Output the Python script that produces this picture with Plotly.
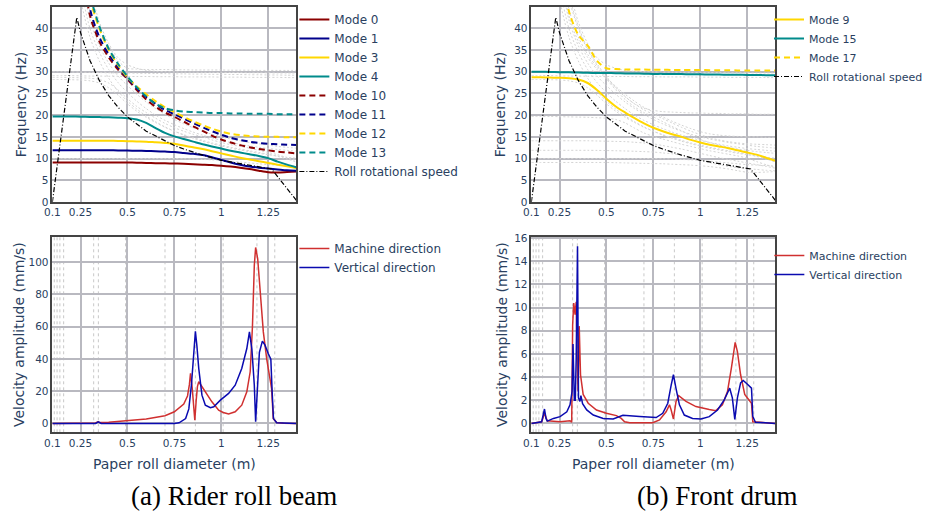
import plotly.graph_objects as go

# ---------------- data ----------------
diameter = [0.1, 0.15, 0.2, 0.25, 0.3, 0.35, 0.4, 0.45, 0.5, 0.55, 0.6, 0.65, 0.7, 0.75,
            0.8, 0.85, 0.9, 0.95, 1.0, 1.05, 1.1, 1.15, 1.2, 1.25, 1.3, 1.35, 1.4]

mode_0 = [9.1, 9.1, 9.1, 9.1, 9.1, 9.1, 9.1, 9.1, 9.1, 9.05, 9.0, 8.95, 8.9, 8.85,
          8.8, 8.7, 8.6, 8.5, 8.35, 8.15, 7.9, 7.6, 7.2, 6.85, 6.8, 6.9, 7.0]
mode_1 = [11.9, 11.9, 11.9, 11.9, 11.9, 11.9, 11.9, 11.88, 11.85, 11.8, 11.75, 11.68, 11.6, 11.5,
          11.3, 11.1, 10.8, 10.3, 9.7, 9.1, 8.6, 8.2, 7.9, 7.7, 7.5, 7.3, 7.2]
mode_2 = [10.0, 10.0, 10.0, 10.0, 10.0, 10.0, 10.0, 10.0, 10.0, 10.0, 10.0, 10.0, 10.0, 10.0,
          9.95, 9.9, 9.8, 9.7, 9.55, 9.4, 9.2, 9.0, 8.8, 8.6, 8.5, 8.4, 8.3]
mode_3 = [14.1, 14.1, 14.1, 14.1, 14.1, 14.1, 14.1, 14.05, 14.0, 13.95, 13.9, 13.75, 13.6, 13.4,
          13.0, 12.6, 12.2, 11.7, 11.2, 10.7, 10.2, 9.8, 9.4, 9.0, 8.6, 8.2, 7.8]
mode_4 = [19.7, 19.7, 19.7, 19.65, 19.6, 19.55, 19.5, 19.4, 19.3, 19.0, 18.2, 17.0, 15.9, 15.1,
          14.5, 13.9, 13.3, 12.8, 12.3, 11.8, 11.4, 11.0, 10.6, 10.1, 9.3, 8.6, 8.0]
mode_5 = [120, 95, 68, 47, 38, 32.5, 28.5, 25.5, 23.2, 21.4, 19.8, 18.5, 17.3, 16.3,
          15.4, 14.7, 14.0, 13.4, 12.9, 12.4, 12.0, 11.6, 11.2, 10.9, 10.6, 10.3, 10.1]
mode_6 = [125, 98, 72, 50, 40, 34.5, 30.5, 27.5, 25.2, 23.2, 21.5, 20.0, 18.8, 17.8,
          16.9, 16.1, 15.4, 14.8, 14.2, 13.7, 13.3, 12.9, 12.6, 12.3, 12.1, 11.9, 11.7]
mode_7 = [130, 102, 76, 54, 42, 36, 32, 29, 26.8, 24.8, 23.0, 21.5, 20.2, 19.0,
          18.0, 17.1, 16.3, 15.6, 15.0, 14.5, 14.1, 13.7, 13.4, 13.1, 12.8, 12.6, 12.4]
mode_8 = [29.1, 29.1, 29.1, 29.05, 29.0, 29.0, 28.95, 28.95, 28.9, 28.9, 28.9, 28.85, 28.85, 28.85,
          28.8, 28.8, 28.8, 28.8, 28.75, 28.75, 28.75, 28.7, 28.7, 28.7, 28.7, 28.65, 28.65]
mode_9 = [28.7, 28.7, 28.65, 28.6, 28.5, 28.2, 27.4, 25.8, 23.8, 22.0, 20.6, 19.3, 18.1, 17.1,
          16.3, 15.6, 15.0, 14.3, 13.7, 13.2, 12.8, 12.4, 11.9, 11.4, 10.9, 10.2, 9.5]
mode_10 = [140, 110, 82, 58, 43, 37, 33.3, 30.5, 28.3, 25.8, 23.6, 21.9, 20.6, 19.6,
           18.5, 17.4, 16.4, 15.3, 14.4, 13.7, 13.1, 12.6, 12.2, 11.9, 11.6, 11.4, 11.2]
mode_11 = [145, 115, 85, 60, 44.5, 38, 34, 31, 28.5, 26.2, 24.2, 22.6, 21.2, 20.2,
           19.2, 18.2, 17.2, 16.3, 15.5, 14.8, 14.3, 13.9, 13.6, 13.4, 13.3, 13.2, 13.1]
mode_12 = [150, 120, 90, 64, 47, 40, 35, 31.5, 28.7, 26.6, 24.8, 23.2, 21.8, 20.7,
           19.6, 18.6, 17.7, 16.9, 16.2, 15.7, 15.4, 15.2, 15.1, 15.0, 15.0, 14.9, 14.9]
mode_13 = [155, 124, 93, 66, 48, 40.5, 35.3, 31.8, 28.9, 26.4, 24.3, 22.6, 21.6, 21.1,
           20.8, 20.7, 20.6, 20.5, 20.5, 20.4, 20.4, 20.3, 20.3, 20.3, 20.2, 20.2, 20.2]
mode_14 = [28.2, 28.2, 28.15, 28.1, 27.9, 27.4, 26.3, 24.6, 22.6, 20.9, 19.5, 18.3, 17.2, 16.3,
           15.5, 14.8, 14.2, 13.6, 13.1, 12.6, 12.2, 11.8, 11.4, 11.0, 10.5, 9.9, 9.2]
mode_15 = [30.0, 30.0, 29.95, 29.9, 29.85, 29.8, 29.75, 29.7, 29.7, 29.65, 29.6, 29.6, 29.55, 29.5,
           29.5, 29.45, 29.45, 29.4, 29.4, 29.35, 29.35, 29.3, 29.3, 29.25, 29.25, 29.2, 29.2]
mode_16 = [160, 128, 96, 68, 50, 41.5, 36.5, 33.2, 31.6, 30.8, 30.3, 30.1, 30.0, 29.95,
           29.9, 29.9, 29.85, 29.85, 29.8, 29.8, 29.8, 29.75, 29.75, 29.75, 29.7, 29.7, 29.7]
mode_17 = [150, 115, 82, 58, 44, 38.5, 36.0, 32.5, 30.8, 30.6, 30.5, 30.5, 30.5, 30.45,
           30.45, 30.4, 30.4, 30.4, 30.4, 30.35, 30.35, 30.35, 30.3, 30.3, 30.3, 30.3, 30.3]

roll_x = [0.1, 0.23, 0.25, 0.3, 0.35, 0.4, 0.45, 0.5, 0.6, 0.7, 0.75, 0.8, 0.9, 1.0, 1.1, 1.2, 1.268, 1.4]
roll_speed = [0, 42.5, 39.0, 32.6, 28.0, 24.5, 21.8, 19.6, 16.3, 14.0, 13.0, 12.2, 10.8, 9.6, 8.8, 8.1, 7.6, 0.4]

# mode / roll-speed crossings (dashed markers in the response panels)
crossings = [0.11, 0.125, 0.14, 0.16, 0.32, 0.345, 0.49, 0.70, 0.862, 1.01, 1.19, 1.285]

beam_md_x = [0.1, 0.3, 0.33, 0.342, 0.355, 0.4, 0.5, 0.6, 0.7, 0.75, 0.8, 0.82, 0.83, 0.836, 0.845,
             0.853, 0.859, 0.866, 0.873, 0.880, 0.895, 0.915, 0.95, 0.986, 1.01, 1.039, 1.074, 1.109,
             1.136, 1.154, 1.166, 1.176, 1.183, 1.194, 1.207, 1.224, 1.242, 1.26, 1.268, 1.277, 1.295,
             1.33, 1.4]
beam_md = [0, 0, 0.3, 1.0, 0.5, 0.8, 1.8, 2.8, 4.8, 7.2, 12, 17, 24, 31, 22,
           8, 2, 14, 23, 25.8, 23, 19.6, 13.4, 8.2, 6.8, 5.8, 7.2, 11.3,
           19.6, 32, 60, 98, 109, 102, 81, 56.7, 40, 25.8, 21.6, 3, 0.6,
           0.1, 0]
beam_vd_x = [0.1, 0.33, 0.345, 0.36, 0.75, 0.775, 0.81, 0.827, 0.841, 0.852, 0.862, 0.87, 0.88,
             0.897, 0.915, 0.942, 0.96, 0.995, 1.039, 1.074, 1.109, 1.136, 1.15, 1.163, 1.176, 1.183,
             1.192, 1.203, 1.219, 1.233, 1.25, 1.264, 1.271, 1.278, 1.295, 1.4]
beam_vd = [0, 0, 1.0, 0, 0, 0.4, 3, 9, 24, 44, 57, 48, 34,
           17.5, 11.3, 9.7, 10.3, 14.4, 18.6, 23.7, 34, 46.4, 56.7, 46, 23.7, 1,
           23.7, 44, 51, 48.5, 43.3, 39.8, 19.6, 3, 0.4, 0]

drum_md_x = [0.1, 0.155, 0.17, 0.185, 0.2, 0.253, 0.306, 0.315, 0.32, 0.326, 0.333, 0.339, 0.344,
             0.349, 0.355, 0.362, 0.376, 0.403, 0.447, 0.5, 0.553, 0.579, 0.597, 0.624, 0.747, 0.783,
             0.818, 0.836, 0.845, 0.857, 0.871, 0.885, 0.924, 0.977, 1.048, 1.083, 1.118, 1.145,
             1.166, 1.186, 1.198, 1.215, 1.237, 1.263, 1.273, 1.28, 1.4]
drum_md = [0, 0.14, 0.87, 0.2, 0.2, 0.14, 0.23, 0.1, 8.5, 10.4, 9.4, 10.5, 5.6,
           2.75, 8.4, 4.2, 2.5, 1.74, 1.16, 0.87, 0.67, 0.43, 0.14, 0.05, 0.05, 0.3,
           1.0, 1.6, 1.16, 0.38, 1.9, 2.4, 1.9, 1.45, 1.2, 1.1, 1.6, 2.75,
           4.8, 7.0, 6.2, 4.2, 2.5, 1.9, 1.74, 0.14, 0]
drum_vd_x = [0.1, 0.155, 0.17, 0.178, 0.185, 0.218, 0.253, 0.289, 0.306, 0.317, 0.322, 0.329, 0.334,
             0.339, 0.346, 0.351, 0.359, 0.364, 0.373, 0.395, 0.43, 0.483, 0.536, 0.571, 0.588, 0.677,
             0.765, 0.8, 0.827, 0.845, 0.857, 0.871, 0.889, 0.915, 0.959, 1.004, 1.048, 1.092, 1.127,
             1.157, 1.171, 1.184, 1.198, 1.215, 1.229, 1.25, 1.273, 1.28, 1.294, 1.4]
drum_vd = [0, 0.14, 1.24, 0.43, 0.2, 0.43, 0.58, 1.0, 1.6, 2.75, 6.86, 2.0, 2.0,
           5.6, 15.3, 2.2, 1.9, 2.4, 1.7, 1.16, 0.72, 0.43, 0.38, 0.58, 0.7, 0.6,
           0.5, 0.87, 1.74, 3.3, 4.2, 3.0, 1.6, 0.72, 0.43, 0.38, 0.58, 1.16, 2.0,
           3.04, 2.2, 0.35, 2.2, 3.5, 3.7, 3.4, 3.04, 0.6, 0.1, 0]

x_tickvals = [0.1, 0.25, 0.5, 0.75, 1, 1.25]
x_ticktext = ["0.1", "0.25", "0.5", "0.75", "1", "1.25"]

# ---------------- styling ----------------
W, H = 928, 517
FONT = "DejaVu Sans"
TXT = "#2a3f5f"
DARKRED, DARKBLUE, GOLD, TEAL = "#8b0000", "#00008b", "#ffd700", "#008b8b"
RED, BLUE = "#d03030", "#0a0ab0"
DASH = "6px,4px"
DOT = "2px,2px"
DASHDOT = "5px,2px,1px,2px"

modes = {0: mode_0, 1: mode_1, 2: mode_2, 3: mode_3, 4: mode_4, 5: mode_5, 6: mode_6,
         7: mode_7, 8: mode_8, 9: mode_9, 10: mode_10, 11: mode_11, 12: mode_12,
         13: mode_13, 14: mode_14, 15: mode_15, 16: mode_16, 17: mode_17}

left_highlight = [(0, DARKRED, "solid"), (1, DARKBLUE, "solid"), (3, GOLD, "solid"), (4, TEAL, "solid"),
                  (10, DARKRED, DASH), (11, DARKBLUE, DASH), (12, GOLD, DASH), (13, TEAL, DASH)]
right_highlight = [(9, GOLD, "solid"), (15, TEAL, "solid"), (17, GOLD, DASH)]

fig = go.Figure()


def add_mode_panel(xa, ya, highlight, legend):
    hl = {m for m, _, _ in highlight}
    for m, vals in modes.items():
        if m in hl:
            continue
        fig.add_trace(go.Scatter(x=diameter, y=vals, mode="lines", xaxis=xa, yaxis=ya,
                                 line=dict(color="#d4d4d4", width=1, dash=DOT, shape="spline", smoothing=0.8),
                                 showlegend=False, hoverinfo="skip"))
    for m, col, dash in highlight:
        fig.add_trace(go.Scatter(x=diameter, y=modes[m], mode="lines", name=f"Mode {m}",
                                 xaxis=xa, yaxis=ya, legend=legend,
                                 line=dict(color=col, width=2, dash=dash, shape="spline", smoothing=0.8)))
    fig.add_trace(go.Scatter(x=roll_x, y=roll_speed, mode="lines", name="Roll rotational speed",
                             xaxis=xa, yaxis=ya, legend=legend,
                             line=dict(color="black", width=1.2, dash=DASHDOT)))


add_mode_panel("x", "y", left_highlight, "legend")
add_mode_panel("x2", "y2", right_highlight, "legend2")

for xa, ya, lg, mx, my, vx, vy in [("x3", "y3", "legend3", beam_md_x, beam_md, beam_vd_x, beam_vd),
                                   ("x4", "y4", "legend4", drum_md_x, drum_md, drum_vd_x, drum_vd)]:
    fig.add_trace(go.Scatter(x=mx, y=my, mode="lines", name="Machine direction", xaxis=xa, yaxis=ya,
                             legend=lg, line=dict(color=RED, width=1.5)))
    fig.add_trace(go.Scatter(x=vx, y=vy, mode="lines", name="Vertical direction", xaxis=xa, yaxis=ya,
                             legend=lg, line=dict(color=BLUE, width=1.5)))
    for c in crossings:
        fig.add_shape(type="line", xref=xa, yref=f"{ya} domain", x0=c, x1=c, y0=0, y1=1,
                      line=dict(color="#c8c8c8", width=1, dash="3px,3px"), layer="below")

# ---------------- layout ----------------
XL = [52.5 / W, 297 / W]
XR = [532.5 / W, 777 / W]
YT = [1 - 202 / H, 1 - 7 / H]
YB = [1 - 432.3 / H, 1 - 237 / H]

base = dict(showline=True, linecolor="#444444", linewidth=1.5, mirror=True, automargin=False,
            showgrid=True, gridcolor="#b9b9c0", gridwidth=1.5, ticks="",
            tickfont=dict(family=FONT, size=10.5, color=TXT), zeroline=False)


def xax(dom, anchor, title=None):
    d = dict(base, domain=dom, anchor=anchor, range=[0.1, 1.4], tickvals=x_tickvals, ticktext=x_ticktext)
    if title:
        d["title"] = dict(text=title, font=dict(family=FONT, size=14, color=TXT), standoff=12)
    return d


def yax(dom, anchor, rng, dtick, title, standoff, zero=False):
    d = dict(base, domain=dom, anchor=anchor, range=rng, dtick=dtick,
             title=dict(text=title, font=dict(family=FONT, size=14, color=TXT), standoff=standoff))
    if zero:
        d.update(zeroline=True, zerolinecolor="#b9b9c0", zerolinewidth=1.5)
    return d


def legend_at(xpx, ypx, size=12):
    return dict(x=xpx / W, y=1 - ypx / H, xanchor="left", yanchor="top", bgcolor="rgba(0,0,0,0)",
                font=dict(family=FONT, size=size, color=TXT), borderwidth=0, tracegroupgap=0)


fig.update_layout(
    width=W, height=H, autosize=False,
    margin=dict(l=0, r=0, t=0, b=0),
    paper_bgcolor="white", plot_bgcolor="white",
    font=dict(family=FONT, color=TXT),
    xaxis=xax(XL, "y"), yaxis=yax(YT, "x", [0, 44.9], 5, "Frequency (Hz)", 5),
    xaxis2=xax(XR, "y2"), yaxis2=yax(YT, "x2", [0, 44.9], 5, "Frequency (Hz)", 5),
    xaxis3=xax(XL, "y3", "Paper roll diameter (m)"),
    yaxis3=yax(YB, "x3", [-5.5, 115.5], 20, "Velocity amplitude (mm/s)", 1, zero=True),
    xaxis4=xax(XR, "y4", "Paper roll diameter (m)"),
    yaxis4=yax(YB, "x4", [-0.77, 16.1], 2, "Velocity amplitude (mm/s)", 3, zero=True),
    legend=legend_at(295, 5),
    legend2=legend_at(771, 5, 11),
    legend3=legend_at(295, 234),
    legend4=legend_at(771, 241, 11),
    annotations=[
        dict(text="(a) Rider roll beam", x=235 / W, y=1 - 496 / H, xref="paper", yref="paper",
             showarrow=False, xanchor="center", yanchor="middle",
             font=dict(family="Liberation Serif", size=27, color="black")),
        dict(text="(b) Front drum", x=719 / W, y=1 - 496 / H, xref="paper", yref="paper",
             showarrow=False, xanchor="center", yanchor="middle",
             font=dict(family="Liberation Serif", size=27, color="black")),
    ],
)

fig.write_html("out.html", config={"displayModeBar": False},
               post_script="document.body.style.margin='0px';")
